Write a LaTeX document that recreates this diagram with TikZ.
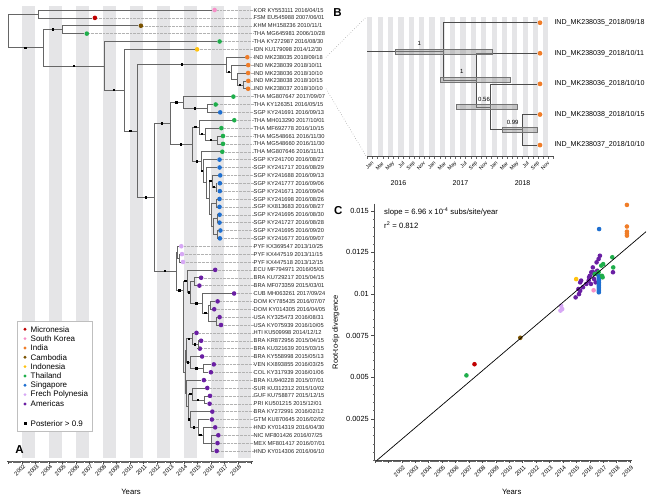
\documentclass[tikz,border=0pt]{standalone}
\usepackage{fontspec}
\setmainfont{Liberation Sans}
\usetikzlibrary{calc}
\definecolor{cMic}{HTML}{C00000}
\definecolor{cKor}{HTML}{F78FC8}
\definecolor{cInd}{HTML}{F07D28}
\definecolor{cCam}{HTML}{7A5200}
\definecolor{cIdn}{HTML}{FFC20E}
\definecolor{cTha}{HTML}{1FAE4B}
\definecolor{cSgp}{HTML}{1E6FD0}
\definecolor{cPyf}{HTML}{D7A8F5}
\definecolor{cAme}{HTML}{6A1FA3}
\definecolor{stripe}{HTML}{E5E5E7}
\definecolor{branchc}{HTML}{666666}
\tikzset{
  branch/.style={draw=branchc, line width=0.6pt},
  bbranch/.style={draw=black!70, line width=0.6pt},
  sq/.style={rectangle, fill=black, inner sep=0pt, minimum size=2.4pt},
  tipdot/.style={circle, inner sep=0pt, minimum size=4.6pt},
  leader/.style={draw=black!30, densely dotted, line width=0.35pt},
  tiplab/.style={anchor=west, inner sep=0pt, font=\fontsize{5.7}{6}\selectfont, text=black!85},
  ticklab/.style={rotate=45, anchor=north east, inner sep=0pt, font=\fontsize{5.8}{6}\selectfont},
  axtitle/.style={font=\fontsize{7.7}{9}\selectfont},
  panellab/.style={font=\fontsize{11.5}{13}\selectfont\bfseries},
  legtext/.style={anchor=west, inner sep=0pt, font=\fontsize{8}{9}\selectfont},
  legdot/.style={circle, inner sep=0pt, minimum size=3.2pt},
  hpd/.style={fill=black!40, fill opacity=0.45, draw=black!55, line width=0.4pt},
  supp/.style={font=\fontsize{6}{7}\selectfont, inner sep=0pt},
  blab/.style={anchor=west, inner sep=0pt, font=\fontsize{7.1}{8}\selectfont},
  bdot/.style={circle, inner sep=0pt, minimum size=4.8pt, fill=cInd},
  zoomline/.style={draw=black!45, dotted, line width=0.5pt},
  axline/.style={draw=black!70, line width=0.5pt},
  ylab/.style={anchor=east, inner sep=0pt, font=\fontsize{7.4}{8}\selectfont},
}
\newcommand\mytip[5]{%
  \node[tipdot, fill=#4] (#1) at (#3,#2) {};
  \node[tiplab] (#1l) at (253.5,#2) {#5};
  \draw[leader] (#1) -- (#1l);
}
\newcommand\edg[2]{\draw[branch] (#1) |- (#2);}
\newcommand\edgs[2]{\draw[branch] (#1) |- (#2) node[sq,pos=0.75]{};}
\newcommand\cpt[3]{\fill[#3] ({401.7+(#1-2002)*13.43},{460.5-#2*1665*10}) circle[radius=2.3pt];}
\begin{document}
\begin{tikzpicture}[x=1pt,y=-1pt]
\useasboundingbox (0,0) rectangle (656,500);
\fill[white] (0,0) rectangle (656,500);

% ---------------- Panel A ----------------
\foreach \yr in {2002,2004,...,2018}
  \fill[stripe] ({21.7+(\yr-2002)*13.5},6) rectangle ({21.7+(\yr-2001)*13.5},458);

\begin{scope}[x=1pt,y=-7.875pt,yshift=-2.125pt]
\mytip{t1}{1}{214.6}{cKor}{KOR KY553111 2016/04/15}
\mytip{t2}{2}{94.9}{cMic}{FSM EU545988 2007/06/01}
\mytip{t3}{3}{140.9}{cCam}{KHM MH158236 2010/11/1}
\mytip{t4}{4}{86.8}{cTha}{THA MG645981 2006/10/28}
\mytip{t5}{5}{219.6}{cTha}{THA KY272987 2016/08/30}
\mytip{t6}{6}{197.1}{cIdn}{IDN KU179098 2014/12/30}
\mytip{t7}{7}{247.3}{cInd}{IND MK238035 2018/09/18}
\mytip{t8}{8}{248.2}{cInd}{IND MK238039 2018/10/11}
\mytip{t9}{9}{248.1}{cInd}{IND MK238036 2018/10/10}
\mytip{t10}{10}{248.3}{cInd}{IND MK238038 2018/10/15}
\mytip{t11}{11}{248.1}{cInd}{IND MK238037 2018/10/10}
\mytip{t12}{12}{233.4}{cTha}{THA MG807647 2017/09/07}
\mytip{t13}{13}{215.7}{cTha}{THA KY126351 2016/05/15}
\mytip{t14}{14}{220.2}{cSgp}{SGP KY241691 2016/09/13}
\mytip{t15}{15}{234.3}{cTha}{THA MH013290 2017/10/01}
\mytip{t16}{16}{221.4}{cTha}{THA MF692778 2016/10/15}
\mytip{t17}{17}{223.0}{cTha}{THA MG548661 2016/11/30}
\mytip{t18}{18}{223.0}{cTha}{THA MG548660 2016/11/30}
\mytip{t19}{19}{222.3}{cTha}{THA MG807646 2016/11/11}
\mytip{t20}{20}{219.5}{cSgp}{SGP KY241700 2016/08/27}
\mytip{t21}{21}{219.6}{cSgp}{SGP KY241717 2016/08/29}
\mytip{t22}{22}{220.2}{cSgp}{SGP KY241688 2016/09/13}
\mytip{t23}{23}{219.9}{cSgp}{SGP KY241777 2016/09/06}
\mytip{t24}{24}{219.8}{cSgp}{SGP KY241671 2016/09/04}
\mytip{t25}{25}{219.5}{cSgp}{SGP KY241698 2016/08/26}
\mytip{t26}{26}{219.5}{cSgp}{SGP KX813683 2016/08/27}
\mytip{t27}{27}{219.6}{cSgp}{SGP KY241695 2016/08/30}
\mytip{t28}{28}{219.5}{cSgp}{SGP KY241727 2016/08/28}
\mytip{t29}{29}{220.4}{cSgp}{SGP KY241695 2016/09/20}
\mytip{t30}{30}{219.9}{cSgp}{SGP KY241677 2016/09/07}
\mytip{t31}{31}{181.3}{cPyf}{PYF KX369547 2013/10/25}
\mytip{t32}{32}{182.0}{cPyf}{PYF KX447519 2013/11/15}
\mytip{t33}{33}{183.0}{cPyf}{PYF KX447518 2013/12/15}
\mytip{t34}{34}{215.2}{cAme}{ECU MF794971 2016/05/01}
\mytip{t35}{35}{201.1}{cAme}{BRA KU729217 2015/04/15}
\mytip{t36}{36}{199.4}{cAme}{BRA MF073359 2015/03/01}
\mytip{t37}{37}{234.1}{cAme}{CUB MH063261 2017/09/24}
\mytip{t38}{38}{217.6}{cAme}{DOM KY785435 2016/07/07}
\mytip{t39}{39}{214.2}{cAme}{DOM KY014305 2016/04/05}
\mytip{t40}{40}{219.6}{cAme}{USA KY325473 2016/08/31}
\mytip{t41}{41}{221.0}{cAme}{USA KY075939 2016/10/05}
\mytip{t42}{42}{196.5}{cAme}{HTI KU509998 2014/12/12}
\mytip{t43}{43}{201.1}{cAme}{BRA KR872956 2015/04/15}
\mytip{t44}{44}{199.9}{cAme}{BRA KU321639 2015/03/15}
\mytip{t45}{45}{202.1}{cAme}{BRA KY558998 2015/05/13}
\mytip{t46}{46}{213.8}{cAme}{VEN KX893855 2016/03/25}
\mytip{t47}{47}{210.9}{cAme}{COL KY317939 2016/01/06}
\mytip{t48}{48}{203.9}{cAme}{BRA KU940228 2015/07/01}
\mytip{t49}{49}{207.3}{cAme}{SUR KU312312 2015/10/02}
\mytip{t50}{50}{210.0}{cAme}{GUF KU758877 2015/12/15}
\mytip{t51}{51}{209.6}{cAme}{PRI KU501215 2015/12/01}
\mytip{t52}{52}{212.3}{cAme}{BRA KY272991 2016/02/12}
\mytip{t53}{53}{211.9}{cAme}{GTM KU870645 2016/02/02}
\mytip{t54}{54}{215.2}{cAme}{HND KY014319 2016/04/30}
\mytip{t55}{55}{218.3}{cAme}{NIC MF801426 2016/07/25}
\mytip{t56}{56}{217.5}{cAme}{MEX MF801417 2016/07/01}
\mytip{t57}{57}{216.7}{cAme}{HND KY014306 2016/06/10}

\coordinate (nR) at (8,3.65);
\coordinate (nA) at (38.3,1.5);
\coordinate (nB) at (43.3,5.8);
\coordinate (nC) at (62.3,3.5);
\coordinate (nD) at (104.3,8.09);
\coordinate (nE) at (124,11.19);
\coordinate (nF) at (137.3,16.37);
\coordinate (nIND) at (226.5,7.94);
\coordinate (nIN2) at (231.5,8.875);
\coordinate (nIN3) at (237,9.75);
\coordinate (nIN4) at (243,10.5);
\coordinate (nG) at (154.3,24.79);
\coordinate (nH) at (170,15.4);
\coordinate (nH1) at (183.3,12.75);
\coordinate (nJ1) at (207,13.5);
\coordinate (nK) at (192.3,18.06);
\coordinate (nL) at (199,15.875);
\coordinate (nL2) at (205,16.75);
\coordinate (nL3) at (217.5,17.5);
\coordinate (nM) at (201.7,20.24);
\coordinate (nN) at (203.5,21.47);
\coordinate (nN2) at (206,22.94);
\coordinate (nN3) at (209,24.875);
\coordinate (nN4) at (212,22.75);
\coordinate (nN4b) at (216,23.5);
\coordinate (nN5) at (211,27);
\coordinate (nN5a) at (216.5,25.5);
\coordinate (nN5b) at (213.5,28.5);
\coordinate (nN5c) at (217,27.5);
\coordinate (nN5d) at (217.5,29.5);
\coordinate (nI) at (176,34.175);
\coordinate (nP1) at (177.3,31.75);
\coordinate (nP2) at (179.3,32.5);
\coordinate (nQ) at (183.3,36.6);
\coordinate (nX1) at (187.7,35.44);
\coordinate (nX2) at (190.7,36.875);
\coordinate (nBR2) at (194.5,35.5);
\coordinate (nCUB) at (202.3,38.25);
\coordinate (nDU) at (208.3,39.5);
\coordinate (nDOM) at (210.7,38.5);
\coordinate (nUSA) at (216.7,40.5);
\coordinate (nY) at (184.8,46.97);
\coordinate (nY1) at (186.5,44.25);
\coordinate (nY1a) at (192,42.75);
\coordinate (nBR3) at (198.5,43.5);
\coordinate (nY1b) at (190,45.75);
\coordinate (nVC) at (203,46.5);
\coordinate (nW) at (186.2,49.69);
\coordinate (nW1) at (188.3,51.375);
\coordinate (nSG) at (192.5,49.75);
\coordinate (nGP) at (204,50.5);
\coordinate (nCE) at (190,53);
\coordinate (nC2) at (198,54);
\coordinate (nC3) at (203,55);
\coordinate (nC4) at (211.5,56);

\edg{nR}{nA} \edg{nA}{t1} \edg{nA}{t2}
\edgs{nR}{nB}
\edgs{nB}{nC} \edgs{nB}{nD}
\edg{nC}{t3} \edg{nC}{t4}
\edg{nD}{t5} \edgs{nD}{nE}
\edg{nE}{t6} \edgs{nE}{nF}
\edgs{nF}{nIND} \edgs{nF}{nG}
\edg{nIND}{t7} \edgs{nIND}{nIN2}
\edg{nIN2}{t8} \edg{nIN2}{nIN3}
\edg{nIN3}{t9} \edgs{nIN3}{nIN4}
\edg{nIN4}{t10} \edg{nIN4}{t11}
\edgs{nG}{nH} \edgs{nG}{nI}
\edgs{nH}{nH1} \edgs{nH}{nK}
\edg{nH1}{t12} \edgs{nH1}{nJ1}
\edg{nJ1}{t13} \edg{nJ1}{t14}
\edgs{nK}{nL} \edgs{nK}{nM}
\edg{nL}{t15} \edgs{nL}{nL2}
\edg{nL2}{t16} \edgs{nL2}{nL3}
\edg{nL3}{t17} \edg{nL3}{t18}
\edg{nM}{t19} \edgs{nM}{nN}
\edg{nN}{t20} \edg{nN}{nN2}
\edg{nN2}{t21} \edg{nN2}{nN3}
\edgs{nN3}{nN4} \edg{nN3}{nN5}
\edg{nN4}{t22} \edgs{nN4}{nN4b}
\edg{nN4b}{t23} \edg{nN4b}{t24}
\edg{nN5}{nN5a} \edg{nN5}{nN5b}
\edg{nN5a}{t25} \edg{nN5a}{t26}
\edg{nN5b}{nN5c} \edg{nN5b}{nN5d}
\edg{nN5c}{t27} \edg{nN5c}{t28}
\edg{nN5d}{t29} \edg{nN5d}{t30}
\edg{nI}{nP1} \edgs{nI}{nQ}
\edg{nP1}{t31} \edg{nP1}{nP2}
\edg{nP2}{t32} \edg{nP2}{t33}
\edgs{nQ}{nX1} \edg{nQ}{nY}
\edg{nX1}{t34} \edgs{nX1}{nX2}
\edg{nX2}{nBR2} \edgs{nX2}{nCUB}
\edg{nBR2}{t35} \edg{nBR2}{t36}
\edg{nCUB}{t37} \edgs{nCUB}{nDU}
\edg{nDU}{nDOM} \edg{nDU}{nUSA}
\edg{nDOM}{t38} \edg{nDOM}{t39}
\edg{nUSA}{t40} \edg{nUSA}{t41}
\edg{nY}{nY1} \edg{nY}{nW}
\edgs{nY1}{nY1a} \edgs{nY1}{nY1b}
\edg{nY1a}{t42} \edgs{nY1a}{nBR3}
\edg{nBR3}{t43} \edg{nBR3}{t44}
\edg{nY1b}{t45} \edgs{nY1b}{nVC}
\edg{nVC}{t46} \edg{nVC}{t47}
\edg{nW}{t48} \edg{nW}{nW1}
\edgs{nW1}{nSG} \edgs{nW1}{nCE}
\edg{nSG}{t49} \edgs{nSG}{nGP}
\edg{nGP}{t50} \edg{nGP}{t51}
\edg{nCE}{t52} \edgs{nCE}{nC2}
\edg{nC2}{t53} \edgs{nC2}{nC3}
\edg{nC3}{t54} \edg{nC3}{nC4}
\edg{nC4}{t55} \edg{nC4}{t56} \edg{nC4}{t57}
\end{scope}

% axis A
\draw[axline] (7,461) -- (252.5,461);
\foreach \k in {0,...,216}
  \draw[black!60, line width=0.3pt] ({21.7+(\k-12)*1.125},461) -- ++(0,1.6);
\foreach \yr in {2001,...,2019}
  \draw[black!70, line width=0.4pt] ({21.7+(\yr-2002)*13.5},461) -- ++(0,2.8);
\foreach \yr in {2002,...,2018}
  \node[ticklab] at ({21.7+(\yr-2002)*13.5+1.2},464) {\yr};
\node[axtitle] (yearsA) at (131,492) {Years};
\node[panellab] (labA) at (19.5,449.5) {A};

% legend
\node[draw=black!25, fill=white, line width=0.4pt, minimum width=75pt, minimum height=110pt, inner sep=0pt] (legbox) at (54.8,375.7) {};
\foreach \c/\t [count=\i from 0] in {cMic/Micronesia,cKor/South Korea,cInd/India,cCam/Cambodia,cIdn/Indonesia,cTha/Thailand,cSgp/Singapore,cPyf/Frech Polynesia,cAme/Americas}{
  \node[legdot, fill=\c] at (25,{329.3+\i*9.33}) {};
  \node[legtext] at (30.5,{329.3+\i*9.33}) {\t};
}
\node[sq, minimum size=3pt] at (25,423.7) {};
\node[legtext] at (30.5,423.7) {Posterior > 0.9};

% ---------------- Panel B ----------------
\node[panellab] (labB) at (337.5,12.5) {B};
\foreach \m in {0,2,...,34}
  \fill[stripe] ({367.3+\m*5.175},16.7) rectangle ({367.3+(\m+1)*5.175},156.7);
\draw[axline] (367.3,156.7) -- (553.6,156.7);
\foreach \m in {0,...,36}
  \draw[black!60, line width=0.35pt] ({367.3+\m*5.175},156.7) -- ++(0,2);
\foreach \yy in {0,1,2}{
  \foreach \mm/\lab in {0/Jan,2/Mar,4/May,6/Jul,8/Sep,10/Nov}
    \node[ticklab, font=\fontsize{5.2}{6}\selectfont] at ({367.3+(\yy*12+\mm)*5.175+4},161) {\lab};
}
\node[axtitle, font=\fontsize{7}{8}\selectfont] at (398.4,183.3) {2016};
\node[axtitle, font=\fontsize{7}{8}\selectfont] at (460.5,183.3) {2017};
\node[axtitle, font=\fontsize{7}{8}\selectfont] at (522.6,183.3) {2018};

\node[bdot] (bt1) at (540,22.7) {};
\node[bdot] (bt2) at (540,53.3) {};
\node[bdot] (bt3) at (540,83.9) {};
\node[bdot] (bt4) at (540,114.5) {};
\node[bdot] (bt5) at (540,145.1) {};
\node[blab] (btl1) at (554.3,22.7) {IND\_MK238035\_2018/09/18};
\node[blab] (btl2) at (554.3,53.3) {IND\_MK238039\_2018/10/11};
\node[blab] (btl3) at (554.3,83.9) {IND\_MK238036\_2018/10/10};
\node[blab] (btl4) at (554.3,114.5) {IND\_MK238038\_2018/10/15};
\node[blab] (btl5) at (554.3,145.1) {IND\_MK238037\_2018/10/10};
\coordinate (b0) at (367.3,51.39);
\coordinate (b1) at (443.3,51.39);
\coordinate (b2) at (476.7,80.08);
\coordinate (b3) at (490.7,106.85);
\coordinate (b4) at (522.3,129.8);
\draw[bbranch] (b0) -- (b1);
\draw[bbranch] (b1) |- (bt1);
\draw[bbranch] (b1) |- (b2);
\draw[bbranch] (b2) |- (bt2);
\draw[bbranch] (b2) |- (b3);
\draw[bbranch] (b3) |- (bt3);
\draw[bbranch] (b3) |- (b4);
\draw[bbranch] (b4) |- (bt4);
\draw[bbranch] (b4) |- (bt5);
\draw[hpd] (395,48.9) rectangle (491.7,53.9);
\draw[hpd] (440,77.6) rectangle (510,82.6);
\draw[hpd] (456,104.35) rectangle (516.7,109.35);
\draw[hpd] (502.3,127.3) rectangle (537.3,132.3);
\node[supp] at (419.3,43.3) {1};
\node[supp] at (461.7,71.7) {1};
\node[supp] at (484,99) {0.56};
\node[supp] at (512.7,122.7) {0.99};

% zoom connectors
\coordinate (zB1) at (366.5,16.7);
\coordinate (zB2) at (366.5,156.7);
\draw[zoomline] ([xshift=3pt]t7l.east) -- (zB1);
\draw[zoomline] ([xshift=3pt]t11l.east) -- (zB2);

% ---------------- Panel C ----------------
\node[panellab] (labC) at (338.3,211) {C};
\draw[axline] (374.5,203.5) -- (374.5,460.5) -- (632,460.5);
\foreach \k in {0,...,30}
  \draw[black!60, line width=0.35pt] (374.5,{460.5-\k*8.325}) -- ++(-1.7,0);
\foreach \k in {1,...,6}
  \draw[black!70, line width=0.4pt] (374.5,{460.5-\k*41.625}) -- ++(-4,0);
\node[ylab] at (369,418.9) {0.0025};
\node[ylab] at (369,377.25) {0.005};
\node[ylab] at (369,335.6) {0.0075};
\node[ylab] at (369,294) {0.01};
\node[ylab] at (369,252.4) {0.0125};
\node[ylab] at (369,210.75) {0.015};
\foreach \k in {0,...,228}
  \draw[black!60, line width=0.3pt] ({374.84+\k*1.119},460.5) -- ++(0,1.6);
\foreach \yr in {2000,...,2019}
  \draw[black!70, line width=0.4pt] ({401.7+(\yr-2002)*13.43},460.5) -- ++(0,2.8);
\foreach \yr in {2002,...,2019}
  \node[ticklab] at ({401.7+(\yr-2002)*13.43+0.8},465) {\yr};
\node[axtitle] (yearsC) at (511.7,491.7) {Years};
\node[axtitle, font=\fontsize{7.5}{9}\selectfont, rotate=90] (rtt) at (336,332.5) {Root-to-tip divergence};
\node[anchor=west, inner sep=0pt, font=\fontsize{7.7}{9}\selectfont] (slope) at (384,212.3) {slope = 6.96 x 10\textsuperscript{-4} subs/site/year};
\node[anchor=west, inner sep=0pt, font=\fontsize{7.7}{9}\selectfont] (rsq) at (384,224.8) {r\textsuperscript{2} = 0.812};

% points
\foreach \yy/\vv in {2016.33/0.0112,2015.29/0.0107,2015.16/0.0103,2017.73/0.0113,2016.51/0.0119,2016.26/0.0113,2016.66/0.0121,2016.76/0.0123,2014.95/0.0098,2015.29/0.0102,2015.20/0.0100,2015.36/0.0108,2016.23/0.0116,2016.01/0.0111,2015.50/0.0104,2015.75/0.0106,2015.95/0.0110,2015.92/0.0108,2016.12/0.0113,2016.09/0.0106,2016.33/0.0109,2016.56/0.0114,2016.50/0.0112,2016.44/0.0107}
  {\cpt{\yy}{\vv}{cAme}}
\foreach \vv in {0.0101,0.0102,0.0103,0.0104,0.0105,0.0106,0.0107,0.0108,0.0109,0.0110,0.0111}
  {\cpt{2016.68}{\vv}{cSgp}}
\cpt{2016.70}{0.0139}{cSgp}
\foreach \yy/\vv in {2006.82/0.00511,2016.66/0.0113,2017.68/0.0122,2017.75/0.0116,2016.37/0.0112,2017.0/0.0118,2016.96/0.0110,2016.91/0.0111,2016.86/0.0117}
  {\cpt{\yy}{\vv}{cTha}}
\foreach \vv in {0.01535,0.01405,0.01375,0.01363,0.0135}
  {\cpt{2018.77}{\vv}{cInd}}
\cpt{2016.29}{0.01023}{cKor}
\cpt{2014.99}{0.0109}{cIdn}
\cpt{2013.82}{0.0090}{cPyf}
\cpt{2013.87}{0.0093}{cPyf}
\cpt{2013.95}{0.0091}{cPyf}
\cpt{2007.42}{0.00578}{cMic}
\cpt{2010.83}{0.00737}{cCam}
\coordinate (rl1) at (376.7,460.5);
\coordinate (rl2) at (646,231.7);
\draw[black, line width=0.7pt] (rl1) -- (rl2);
\end{tikzpicture}
\end{document}
